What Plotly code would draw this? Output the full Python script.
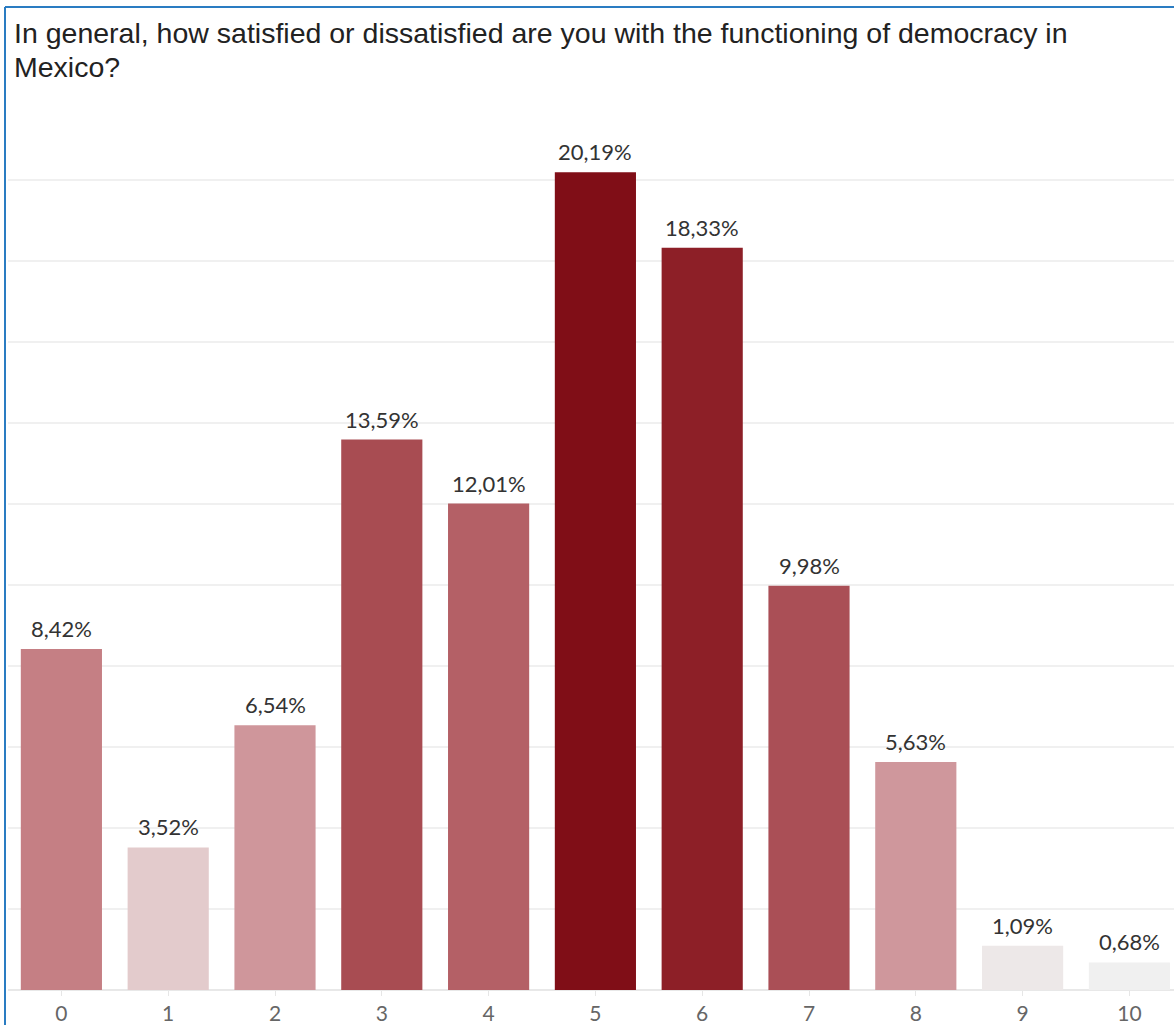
import plotly.graph_objects as go

categories = ["0", "1", "2", "3", "4", "5", "6", "7", "8", "9", "10"]
values = [8.42, 3.52, 6.54, 13.59, 12.01, 20.19, 18.33, 9.98, 5.63, 1.09, 0.68]
labels = ["8,42%", "3,52%", "6,54%", "13,59%", "12,01%", "20,19%", "18,33%", "9,98%", "5,63%", "1,09%", "0,68%"]
colors = ["#C57F84", "#E3CBCC", "#CF969B", "#A84C52", "#B46066", "#800E17",
          "#8D1F27", "#AA4F56", "#CF979C", "#EDE8E8", "#F0F0F0"]
title_lines = ["In general, how satisfied or dissatisfied are you with the functioning of democracy in",
               "Mexico?"]

W, H = 1174, 1025
ML, MR, MT, MB = 8, 0, 110, 35
plot_h = H - MT - MB
px_per_unit = 40.5
ytop = plot_h / px_per_unit
plot_w = W - ML - MR
cat_px = 106.8
xright = -0.5 + plot_w / cat_px

xs = list(range(len(categories)))
fig = go.Figure(go.Bar(
    x=xs, y=values,
    marker=dict(color=colors, line=dict(width=0)),
    width=0.76,
    hoverinfo="skip",
))

for xi, v, lab in zip(xs, values, labels):
    fig.add_annotation(x=xi, y=v, text=lab, showarrow=False, xanchor="center",
                       yanchor="bottom", yshift=5,
                       font=dict(family="Lato", size=22, color="#333333"))

# title lines
for i, line in enumerate(title_lines):
    fig.add_annotation(xref="paper", yref="paper", x=(12 - ML) / plot_w,
                       y=(H - MB - (33 + 34 * i)) / plot_h,
                       text=line, showarrow=False, xanchor="left", yanchor="middle",
                       font=dict(family="Liberation Sans", size=28.5, color="#222222"))

fig.update_layout(
    width=W, height=H,
    margin=dict(l=ML, r=MR, t=MT, b=MB),
    plot_bgcolor="white", paper_bgcolor="white",
    showlegend=False,
    xaxis=dict(
        range=[-0.5, xright], tickmode="array", tickvals=xs,
        ticktext=categories, tickson="boundaries", ticks="outside", ticklen=5,
        tickcolor="#e6e6e6", showgrid=False, zeroline=False, showline=False,
        tickfont=dict(family="Lato", size=21, color="#666666"),
        fixedrange=True, automargin=False,
    ),
    yaxis=dict(
        range=[0, ytop], dtick=2, showticklabels=False, showgrid=True,
        gridcolor="#f0f0f0", gridwidth=1.5, zeroline=True, zerolinecolor="#e8e8e8",
        zerolinewidth=1.5, showline=False, fixedrange=True, automargin=False,
    ),
)

# frame (top and left border)
bx = (5 - ML) / plot_w
by = (H - MB - 7) / plot_h
fig.add_shape(type="line", xref="paper", yref="paper", x0=bx, x1=bx, y0=-0.1, y1=by,
              line=dict(color="#2a7cc2", width=2))
fig.add_shape(type="line", xref="paper", yref="paper", x0=bx, x1=1.01, y0=by, y1=by,
              line=dict(color="#2a7cc2", width=2))

fig.write_html("out.html", config={"displayModeBar": False},
               post_script="document.body.style.margin='0';document.body.style.overflow='hidden';")
